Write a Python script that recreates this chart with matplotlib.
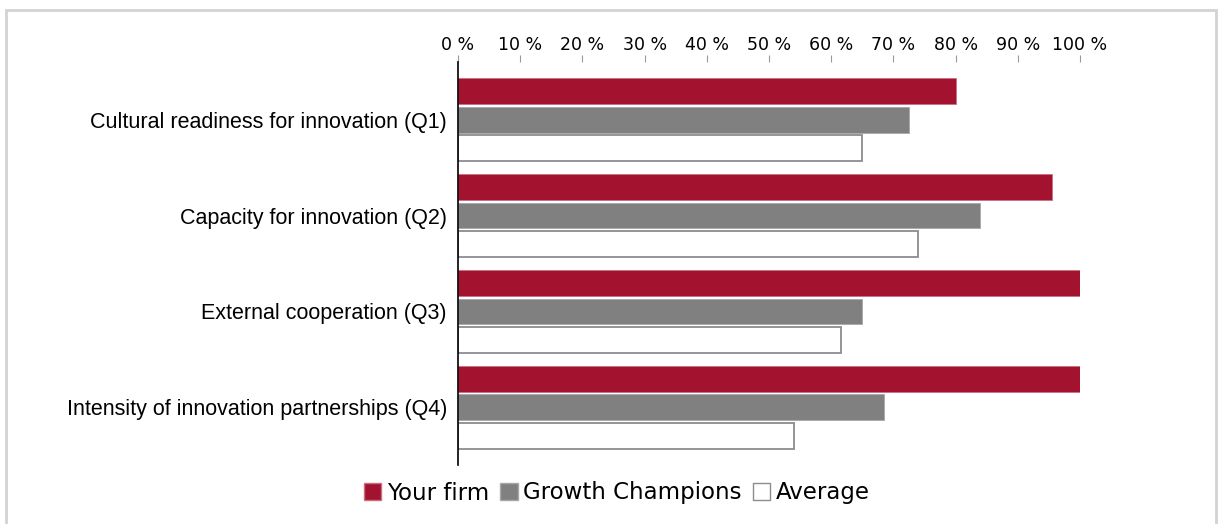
import numpy as np
import matplotlib.pyplot as plt
from matplotlib.patches import Rectangle, Patch

categories = ["Cultural readiness for innovation (Q1)",
              "Capacity for innovation (Q2)",
              "External cooperation (Q3)",
              "Intensity of innovation partnerships (Q4)"]
your_firm = [80, 95.5, 100, 100]
growth_champions = [72.5, 84, 65, 68.5]
average = [65, 74, 61.5, 54]
series_names = ["Your firm", "Growth Champions", "Average"]
tick_values = list(range(0, 101, 10))

W, H = 12.2, 5.24
fig = plt.figure(figsize=(W, H), dpi=100)

# light grey frame around the chart area
fig.patches.append(Rectangle((6 / 1220, -0.05), 1210 / 1220, 1 - 10 / 524 + 0.05,
                             transform=fig.transFigure, fill=False,
                             edgecolor="#d3d3d3", linewidth=2))

left, right = 458 / 1220, 1080 / 1220
top, bottom = 1 - 62 / 524, 1 - 465 / 524
ax = fig.add_axes([left, bottom, right - left, top - bottom])

y = np.arange(len(categories))
h = 0.27
off = 0.30
ax.barh(y - off, your_firm, height=h, color="#a3122f", edgecolor="#c9707f", linewidth=0.6)
ax.barh(y, growth_champions, height=h, color="#808080", edgecolor="#a8a8a8", linewidth=0.6)
ax.barh(y + off, average, height=h, color="white", edgecolor="#8c8c8c", linewidth=1.3)

ax.set_xlim(0, 100)
ax.set_ylim(3.6, -0.6)
ax.set_yticks(y)
ax.set_yticklabels(categories, fontsize=15.5, family="Liberation Sans")
ax.tick_params(axis="y", length=0, pad=8)

ax.xaxis.tick_top()
ax.set_xticks(tick_values)
ax.set_xticklabels([f"{v} %" for v in tick_values], fontsize=12.5, family="DejaVu Sans")
ax.tick_params(axis="x", direction="out", length=5, color="#999999", pad=1)

for s in ["top", "right", "bottom"]:
    ax.spines[s].set_visible(False)
ax.spines["left"].set_color("black")
ax.spines["left"].set_linewidth(1.2)

handles = [Patch(facecolor="#a3122f", edgecolor="#c9707f"),
           Patch(facecolor="#808080", edgecolor="#a8a8a8"),
           Patch(facecolor="white", edgecolor="#8c8c8c")]
fig.legend(handles, series_names, loc="center", bbox_to_anchor=(617 / 1220, 1 - 493 / 524),
           ncol=3, frameon=False, fontsize=16.5, handlelength=0.75, handleheight=0.75,
           handletextpad=0.25, columnspacing=0.5, borderaxespad=0)

fig.savefig("out.png", dpi=100)
